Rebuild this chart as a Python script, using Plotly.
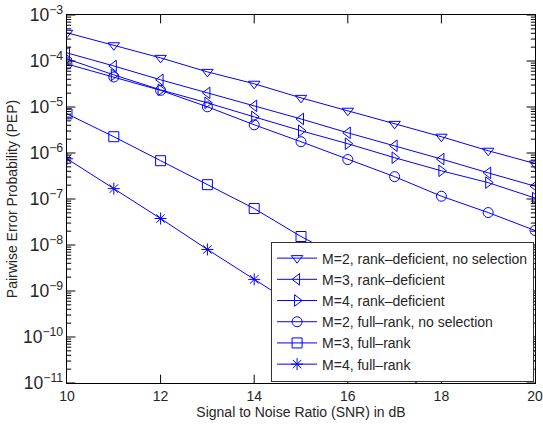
import plotly.graph_objects as go

# SNR grid (dB)
snr = [10, 11, 12, 13, 14, 15, 16, 17, 18, 19, 20]

# Pairwise error probability per scheme
pep_m2_rank_def = [4.1e-4, 2.2e-4, 1.17e-4, 5.8e-5, 3.2e-5, 1.58e-5, 8.3e-6, 4.3e-6, 2.26e-6, 1.12e-6, 5.9e-7]
pep_m3_rank_def = [1.5e-4, 7.8e-5, 3.9e-5, 2.03e-5, 1.06e-5, 5.5e-6, 2.75e-6, 1.44e-6, 7.4e-7, 3.7e-7, 1.9e-7]
pep_m4_rank_def = [1.11e-4, 5.0e-5, 2.36e-5, 1.23e-5, 6.1e-6, 3.05e-6, 1.59e-6, 7.9e-7, 4.1e-7, 2.27e-7, 1.05e-7]
pep_m2_full = [8.6e-5, 4.5e-5, 2.3e-5, 1.01e-5, 4.1e-6, 1.76e-6, 7.2e-7, 3.06e-7, 1.15e-7, 5.07e-8, 2.07e-8]
pep_m3_full = [7.1e-6, 2.26e-6, 6.8e-7, 2.05e-7, 6.2e-8, 1.53e-8, 4.5e-9, 1.4e-9, 4.2e-10, 1.3e-10, 3.9e-11]
pep_m4_full = [7.5e-7, 1.68e-7, 3.76e-8, 8.0e-9, 1.79e-9, 4.0e-10, 9.0e-11, 2.0e-11, 4.5e-12, 1.0e-12, 2.3e-13]

series = [
    ("M=2, rank–deficient, no selection", pep_m2_rank_def, "triangle-down-open"),
    ("M=3, rank–deficient", pep_m3_rank_def, "triangle-left-open"),
    ("M=4, rank–deficient", pep_m4_rank_def, "triangle-right-open"),
    ("M=2, full–rank, no selection", pep_m2_full, "circle-open"),
    ("M=3, full–rank", pep_m3_full, "square-open"),
    ("M=4, full–rank", pep_m4_full, "asterisk-open"),
]

# axis limits and tick positions
X_MIN, X_MAX = 10, 20
Y_MIN, Y_MAX = 1e-11, 1e-3
x_major = [10, 12, 14, 16, 18, 20]
y_major = [10.0 ** e for e in range(-11, -2)]
y_minor = [k * 10.0 ** e for e in range(-11, -3) for k in range(2, 10)]

LINE_BLUE = "#0000ff"
FONT = "Liberation Sans, Arial, sans-serif"
TXT = "#262626"

fig = go.Figure()
for name, vals, sym in series:
    fig.add_trace(go.Scatter(
        x=snr, y=vals, name=name, mode="lines+markers",
        line=dict(color=LINE_BLUE, width=1),
        marker=dict(symbol=sym, size=10, color=LINE_BLUE, line=dict(color=LINE_BLUE, width=1)),
    ))


def tick_marks(xs, ys, symbol, size):
    # short inward tick marks on the box edges; the outer half is clipped by the plot area
    fig.add_trace(go.Scatter(
        x=xs, y=ys, mode="markers", showlegend=False, hoverinfo="skip",
        cliponaxis=True,
        marker=dict(symbol=symbol, size=size, color="black",
                    line=dict(color="black", width=1)),
    ))


for edge in (X_MIN, X_MAX):
    tick_marks([edge] * len(y_minor), y_minor, "line-ew-open", 6)
    tick_marks([edge] * len(y_major), y_major, "line-ew-open", 12)
inner_x = x_major[1:-1]
for edge in (Y_MIN, Y_MAX):
    tick_marks(inner_x, [edge] * len(inner_x), "line-ns-open", 12)

fig.update_layout(
    width=543, height=426,
    margin=dict(l=67, r=8, t=15, b=43),
    paper_bgcolor="white", plot_bgcolor="white",
    font=dict(family=FONT, size=14, color=TXT),
    showlegend=True,
    legend=dict(
        x=0.998, xanchor="right", y=0.004, yanchor="bottom",
        bgcolor="white", bordercolor="#333333", borderwidth=1,
        font=dict(family=FONT, size=14, color=TXT),
        tracegroupgap=0, itemwidth=40,
    ),
)

fig.update_xaxes(
    range=[X_MIN, X_MAX], tickmode="array", tickvals=x_major,
    showline=True, linecolor="black", linewidth=1, mirror=True,
    ticks="", showgrid=False, zeroline=False, automargin=False,
    tickfont=dict(family=FONT, size=14, color=TXT),
    title=dict(text="Signal to Noise Ratio (SNR) in dB", standoff=2,
               font=dict(family=FONT, size=14, color=TXT)),
)

fig.update_yaxes(
    type="log", range=[-11, -3], dtick=1, exponentformat="power",
    showline=True, linecolor="black", linewidth=1, mirror=True,
    ticks="", showgrid=False, zeroline=False, automargin=False,
    tickfont=dict(family=FONT, size=14, color=TXT),
    title=dict(text="Pairwise Error Probability (PEP)", standoff=2,
               font=dict(family=FONT, size=14, color=TXT)),
)

fig.write_html("out.html")
